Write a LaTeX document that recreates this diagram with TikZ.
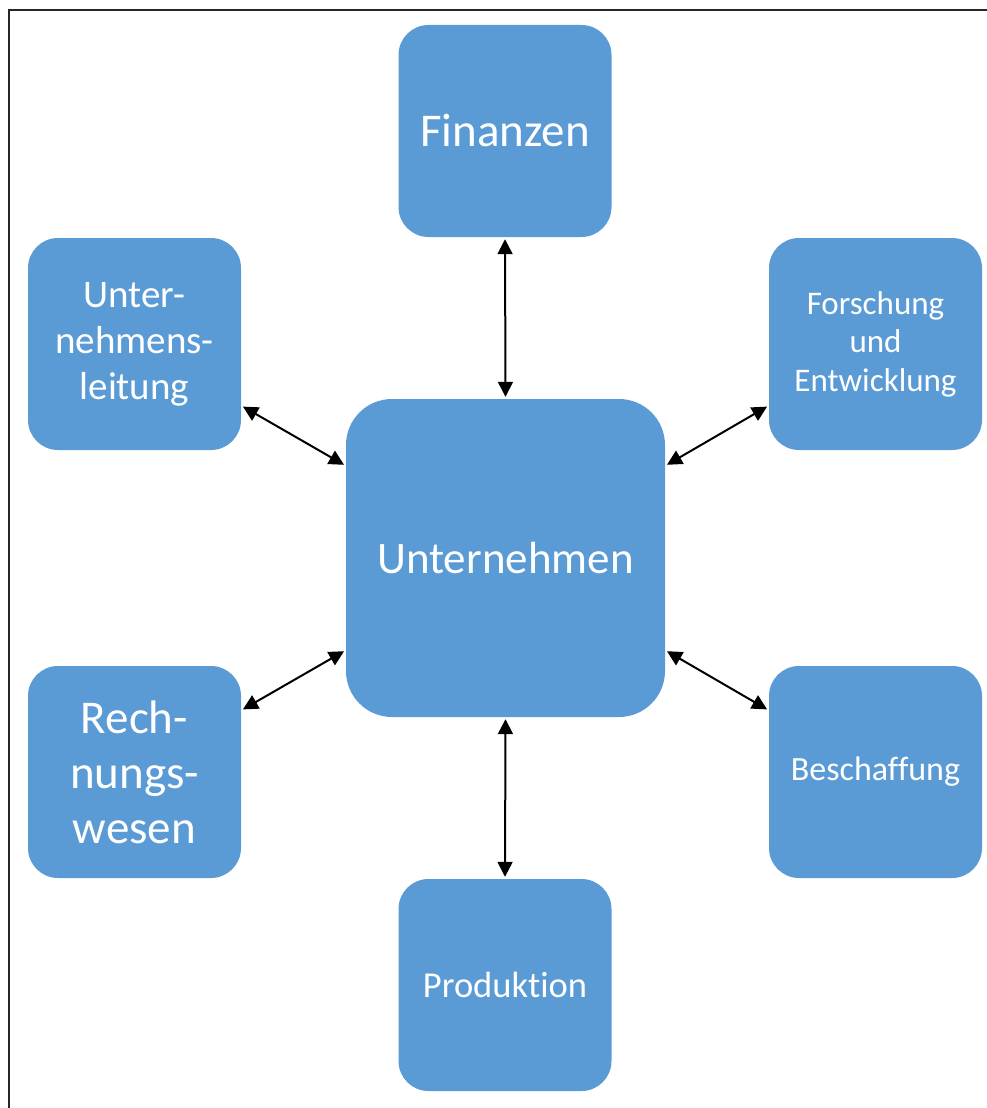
\documentclass[tikz,border=0pt]{standalone}
\usepackage{fontspec}
\setmainfont{Carlito}[Ligatures=NoCommon]
\usetikzlibrary{arrows.meta}
\definecolor{boxblue}{HTML}{5B9BD5}
\tikzset{
  unit/.style={fill=boxblue, draw=none, text=white, align=center,
    inner sep=0pt, minimum width=213pt, minimum height=212pt,
    rounded corners=30pt},
  core/.style={unit, minimum width=319pt, minimum height=318pt,
    rounded corners=46pt},
  link/.style={line width=2pt, black,
    {Triangle[length=15pt,width=15pt]}-{Triangle[length=15pt,width=15pt]},
    shorten <=2pt, shorten >=2pt},
  frame/.style={line width=1.6pt, black!85}
}
\begin{document}
\begin{tikzpicture}[x=1pt,y=-1pt]
  \useasboundingbox (0,0) rectangle (987,1108);
  \draw[frame] (9,1110) -- (9,10) -- (990,10);

  \node[core, font=\fontsize{45}{54}\selectfont] (main) at (505.5,558) {Unternehmen};
  \node[unit, font=\fontsize{47}{56}\selectfont] (fin) at (505,131) {Finanzen};
  \node[unit, font=\fontsize{39}{46}\selectfont] (lead) at (134.5,344) {Unter-\\nehmens-\\leitung};
  \node[unit, font=\fontsize{33}{38.5}\selectfont] (rnd) at (875.5,344) {Forschung\\und\\Entwicklung};
  \node[unit, font=\fontsize{47}{55}\selectfont] (acc) at (134.5,772) {Rech-\\nungs-\\wesen};
  \node[unit, font=\fontsize{34}{40}\selectfont] (buy) at (875.5,772) {Beschaffung};
  \node[unit, font=\fontsize{36.5}{44}\selectfont] (prod) at (505,985) {Produktion};

  \draw[link] (fin.south) -- (main.north);
  \draw[link] (main.south) -- (prod.north);
  \draw[link] (lead.-30) -- (main.150);
  \draw[link] (rnd.210) -- (main.30);
  \draw[link] (acc.30) -- (main.210);
  \draw[link] (buy.150) -- (main.-30);
\end{tikzpicture}
\end{document}
